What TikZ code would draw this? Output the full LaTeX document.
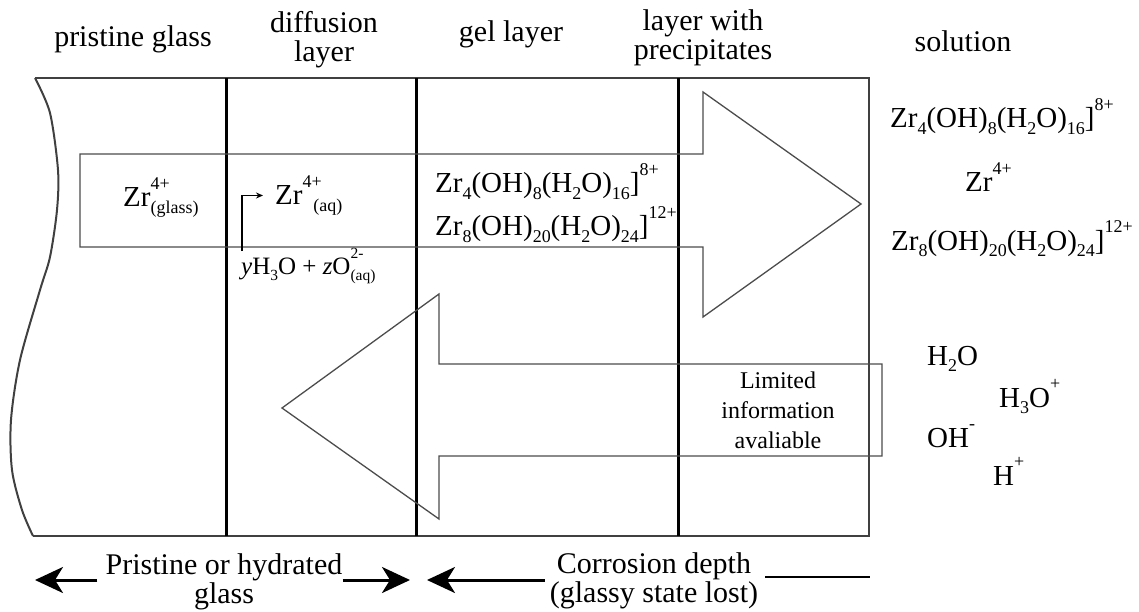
\documentclass[tikz,border=0pt]{standalone}
\usepackage{graphicx}
\usepackage{fontspec}
\setmainfont{Liberation Serif}
\usetikzlibrary{arrows.meta}

% chemical sub- and superscripts in the text font
\newcommand{\chlo}[1]{\raisebox{-0.24em}{\scalebox{0.62}{#1}}}
\newcommand{\chhi}[1]{\raisebox{0.62em}{\scalebox{0.62}{#1}}}
\newcommand{\chhl}[2]{\rlap{\chhi{#1}}\chlo{#2}}

\tikzset{
  lbl/.style={font=\fontsize{30}{29}\selectfont, inner sep=0pt},
  chem/.style={font=\fontsize{29}{32}\selectfont, inner sep=0pt},
  smallchem/.style={font=\fontsize{25}{28}\selectfont, inner sep=0pt},
  note/.style={font=\fontsize{24}{30}\selectfont, inner sep=0pt, align=center},
  frame/.style={line width=2pt, draw=black!75},
  layer/.style={line width=3pt, draw=black},
  flow/.style={line width=1.3pt, draw=black!70, line join=miter},
  bigarrow/.style={line width=3pt, -{Stealth[length=28pt,width=26pt,inset=8pt]}},
  bigline/.style={line width=2.5pt}
}

\begin{document}
\begin{tikzpicture}[x=1pt,y=-1pt]
\useasboundingbox (0,0) rectangle (1139,612);

% the glass block
\draw[frame] plot[smooth] coordinates {(35,78) (50,113) (58,170) (57,210) (50,257) (40,290) (20,360) (11,420) (12,470) (22,510) (33,536)};
\draw[frame] (35,78) -- (869,78) -- (869,536) -- (33,536);
\foreach \x in {226,416,678}
  \draw[layer] (\x,78) -- (\x,536);

% outward and inward flows
\draw[flow] (80,154) -- (703,154) -- (703,92) -- (861,204) -- (703,317) -- (703,247) -- (80,247) -- cycle;
\draw[flow] (882,364) -- (439,364) -- (439,294) -- (282,408) -- (439,519) -- (439,456) -- (882,456) -- cycle;

% column heads
\node[lbl,anchor=base] (pristine) at (133,47) {pristine glass};
\node[lbl,anchor=base,align=center] (diffusion) at (324,62) {diffusion\\layer};
\node[lbl,anchor=base] (gel) at (511,42) {gel layer};
\node[lbl,anchor=base,align=center] (precip) at (703,60) {layer with\\precipitates};
\node[lbl,anchor=base] (solution) at (963,52) {solution};

% species in the layers
\node[chem,anchor=base west] (zrglass) at (123,207) {Zr\chhl{4+}{(glass)}};
\node[chem,anchor=base west] (zraq) at (275,205) {Zr\chhl{4+}{\hspace{0.6em}(aq)}};
\node[smallchem,anchor=base west] (water) at (241,274) {\textit{y}H\chlo{3}O + \textit{z}O\chhl{2-}{(aq)}};
\draw[line width=1.2pt,-{Stealth[length=7pt,width=6pt]},shorten >=12pt] ([xshift=1pt,yshift=-3pt]water.north west) |- (zraq.west);

\node[chem,anchor=base west] (gel1) at (435,193) {Zr\chlo{4}(OH)\chlo{8}(H\chlo{2}O)\chlo{16}]\chhi{8+}};
\node[chem,anchor=base west] (gel2) at (435,236) {Zr\chlo{8}(OH)\chlo{20}(H\chlo{2}O)\chlo{24}]\chhi{12+}};

% species in solution
\node[chem,anchor=base west] (sol1) at (890,128) {Zr\chlo{4}(OH)\chlo{8}(H\chlo{2}O)\chlo{16}]\chhi{8+}};
\node[chem,anchor=base west] (sol2) at (965,192) {Zr\chhi{4+}};
\node[chem,anchor=base west] (sol3) at (891,250) {Zr\chlo{8}(OH)\chlo{20}(H\chlo{2}O)\chlo{24}]\chhi{12+}};
\node[chem,anchor=base west] (h2o) at (927,365) {H\chlo{2}O};
\node[chem,anchor=base west] (h3o) at (999,407) {H\chlo{3}O\chhi{+}};
\node[chem,anchor=base west] (oh) at (927,447) {OH\chhi{-}};
\node[chem,anchor=base west] (hplus) at (993,485) {H\chhi{+}};

\node[note] (info) at (778,410) {Limited\\information\\avaliable};

% depth scale
\coordinate (glassL) at (35,580);
\coordinate (glassR) at (410,580);
\coordinate (depthL) at (427,580);
\coordinate (depthR) at (870,577);
\node[lbl,anchor=base,align=center] (hydrated) at (224,603) {Pristine or hydrated\\glass};
\node[lbl,anchor=base,align=center] (depth) at (654,602) {Corrosion depth\\(glassy state lost)};
\draw[bigarrow] ([xshift=-8pt]hydrated.west |- glassL) -- (glassL);
\draw[bigarrow] (hydrated.east |- glassR) -- (glassR);
\draw[bigarrow] ([xshift=-5pt]depth.west |- depthL) -- (depthL);
\draw[bigline] ([xshift=7pt]depth.east |- depthR) -- (depthR);
\end{tikzpicture}
\end{document}
